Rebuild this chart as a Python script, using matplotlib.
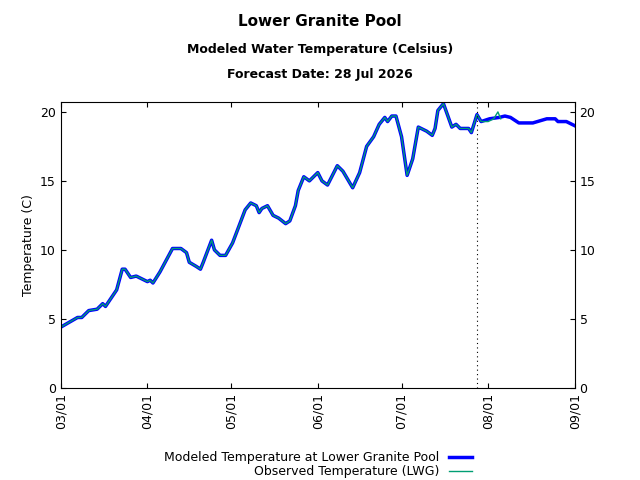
import numpy as np
import pandas as pd
import matplotlib
matplotlib.use("Agg")
import matplotlib.pyplot as plt
import matplotlib.dates as mdates

start = pd.Timestamp("2026-03-01")
forecast_date = pd.Timestamp("2026-07-28")

# modeled temperature (day offset from 03/01, deg C)
mod_day = [0, 6, 7.5, 10, 13, 15, 16, 20, 22, 23, 25, 27, 31, 32, 33, 35.5, 40, 43, 45, 46,
           48.5, 50, 51, 54, 55, 57, 59, 61.5, 66, 68, 70, 71, 72, 74, 76, 78, 80.5, 82, 84,
           85, 87, 89, 92, 93.5, 95.5, 97, 99, 101, 104.5, 107, 109.5, 112, 114, 116, 117,
           118.5, 120, 122, 124, 126, 128, 131, 133, 134, 135, 137, 140, 141.5, 143, 146, 147,
           149, 150.5, 153.5, 157, 159, 161, 164, 169, 174, 177, 178, 181, 184]
mod_temp = [4.4, 5.1, 5.1, 5.6, 5.7, 6.1, 5.9, 7.1, 8.6, 8.6, 8.0, 8.1, 7.7, 7.8, 7.6, 8.4, 10.1, 10.1, 9.8, 9.1,
            8.8, 8.6, 9.1, 10.7, 10.0, 9.6, 9.6, 10.5, 12.9, 13.4, 13.2, 12.7, 13.0, 13.2, 12.5, 12.3, 11.9, 12.1, 13.2,
            14.3, 15.3, 15.0, 15.6, 15.0, 14.7, 15.3, 16.1, 15.7, 14.5, 15.6, 17.5, 18.2, 19.1, 19.6, 19.3,
            19.7, 19.7, 18.2, 15.4, 16.6, 18.9, 18.6, 18.3, 18.8, 20.1, 20.6, 18.9, 19.1, 18.8, 18.8, 18.5,
            19.8, 19.3, 19.5, 19.6, 19.7, 19.6, 19.2, 19.2, 19.5, 19.5, 19.3, 19.3, 19.0]

# observed temperature (LWG)
obs_day = mod_day[:71] + [149, 150.5, 153, 155, 156.5, 157.5]
obs_temp = mod_temp[:71] + [19.8, 19.3, 19.3, 19.5, 20.0, 19.5]

mod_x = [start + pd.Timedelta(days=d) for d in mod_day]
obs_x = [start + pd.Timedelta(days=d) for d in obs_day]

fig, ax = plt.subplots(figsize=(6.4, 4.8), dpi=100)
fig.subplots_adjust(left=0.095, right=0.898, top=0.787, bottom=0.192)

ax.plot(mod_x, mod_temp, color="#0000ff", lw=2.5, label="Modeled Temperature at Lower Granite Pool")
ax.plot(obs_x, obs_temp, color="#009e73", lw=1, label="Observed Temperature (LWG)")
ax.axvline(forecast_date, color="black", ls=(0, (1, 3)), lw=0.8)

ax.set_xlim(start, pd.Timestamp("2026-09-01"))
ax.set_ylim(0, 20.7)
ax.set_yticks([0, 5, 10, 15, 20])
ax.xaxis.set_major_locator(mdates.MonthLocator())
ax.xaxis.set_major_formatter(mdates.DateFormatter("%m/%d"))
plt.setp(ax.get_xticklabels(), rotation=90)
ax.tick_params(direction="in", labelsize=9, top=True, right=True, labelright=True)
ax.set_ylabel("Temperature (C)", fontsize=9)

fig.text(0.5, 0.945, "Lower Granite Pool", ha="center", fontsize=11, fontweight="bold")
fig.text(0.5, 0.89, "Modeled Water Temperature (Celsius)", ha="center", fontsize=9, fontweight="bold")
fig.text(0.5, 0.838, "Forecast Date: 28 Jul 2026", ha="center", fontsize=9, fontweight="bold")

ax.legend(loc="upper center", bbox_to_anchor=(0.5, -0.2), frameon=False, markerfirst=False,
          fontsize=9, handlelength=1.8, borderpad=0, labelspacing=0.1)

fig.savefig("out.png")
